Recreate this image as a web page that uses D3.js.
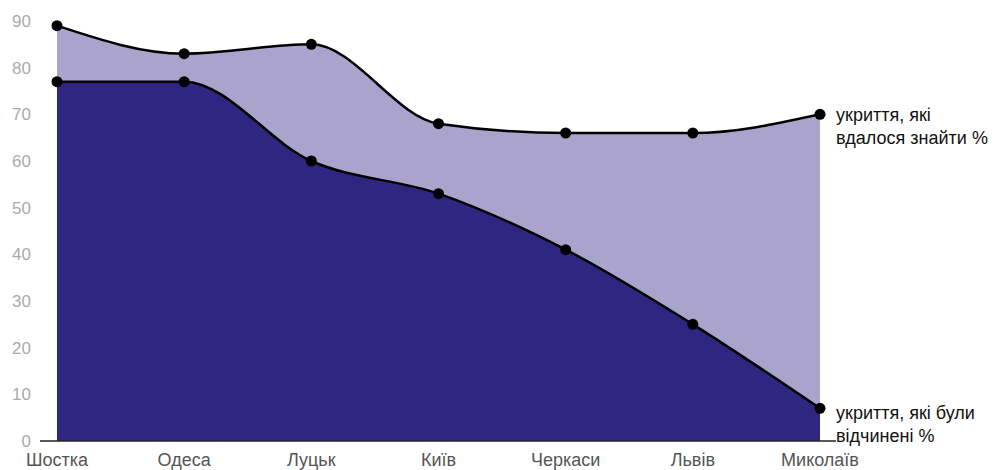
<!DOCTYPE html>
<html>
<head>
<meta charset="utf-8">
<script src="https://cdn.jsdelivr.net/npm/d3@7"></script>
<style>
  body { margin: 0; background: #fff; }
  text { font-family: "Liberation Sans", Arial, sans-serif; }
</style>
</head>
<body>
<div id="chart"></div>
<script>

// ======================= //
// DATA
// ======================= //

var cities = ["Шостка", "Одеса", "Луцьк", "Київ", "Черкаси", "Львів", "Миколаїв"]
var found = [89, 83, 85, 68, 66, 66, 70]   // укриття, які вдалося знайти %
var opened = [77, 77, 60, 53, 41, 25, 7]   // укриття, які були відчинені %
var yTicks = [0, 10, 20, 30, 40, 50, 60, 70, 80, 90]
var labelFound = ["укриття, які", "вдалося знайти %"]
var labelOpened = ["укриття, які були", "відчинені %"]

var width = 994, height = 470
var margin = {top: 21, right: 174, bottom: 29, left: 57}

var svg = d3.select("#chart")
  .append("svg")
    .attr("width", width)
    .attr("height", height)

// ======================= //
// SCALES
// ======================= //

var x = d3.scalePoint()
  .domain(cities)
  .range([margin.left, width - margin.right])

var y = d3.scaleLinear()
  .domain([0, 90])
  .range([height - margin.bottom, margin.top])

var rowsFound = cities.map(function(c, i){ return {city: c, v: found[i]} })
var rowsOpened = cities.map(function(c, i){ return {city: c, v: opened[i]} })

// ======================= //
// AREAS + LINES
// ======================= //

var area = d3.area()
  .curve(d3.curveMonotoneX)
  .x(function(d){ return x(d.city) })
  .y0(y(0))
  .y1(function(d){ return y(d.v) })

var line = d3.line()
  .curve(d3.curveMonotoneX)
  .x(function(d){ return x(d.city) })
  .y(function(d){ return y(d.v) })

svg.append("path").datum(rowsFound).attr("d", area).attr("fill", "#aaa4cc")
svg.append("path").datum(rowsOpened).attr("d", area).attr("fill", "#2e2681")

// baseline
svg.append("line")
  .attr("x1", 40).attr("x2", 836)
  .attr("y1", y(0)).attr("y2", y(0))
  .attr("stroke", "#222").attr("stroke-width", 1.5)

;[rowsFound, rowsOpened].forEach(function(rows){
  svg.append("path").datum(rows).attr("d", line)
    .attr("fill", "none").attr("stroke", "#000").attr("stroke-width", 2.5)
  svg.selectAll(null).data(rows).enter().append("circle")
    .attr("cx", function(d){ return x(d.city) })
    .attr("cy", function(d){ return y(d.v) })
    .attr("r", 5.5)
    .attr("fill", "#000")
})

// ======================= //
// AXES LABELS
// ======================= //

svg.selectAll(null).data(yTicks).enter().append("text")
  .attr("x", 31)
  .attr("y", function(d){ return y(d) + 6 })
  .attr("text-anchor", "end")
  .style("fill", "#aaa")
  .style("font-size", "17px")
  .text(function(d){ return d })

svg.selectAll(null).data(cities).enter().append("text")
  .attr("x", function(d){ return x(d) })
  .attr("y", 466)
  .attr("text-anchor", "middle")
  .style("fill", "#555")
  .style("font-size", "18px")
  .text(function(d){ return d })

// ======================= //
// SERIES LABELS
// ======================= //

var last = cities[cities.length - 1]
svg.selectAll(null).data(labelFound).enter().append("text")
  .attr("x", x(last) + 16)
  .attr("y", function(d, i){ return y(found[found.length - 1]) + 7 + i * 23 })
  .style("fill", "#111")
  .style("font-size", "18px")
  .text(function(d){ return d })

svg.selectAll(null).data(labelOpened).enter().append("text")
  .attr("x", x(last) + 16)
  .attr("y", function(d, i){ return y(opened[opened.length - 1]) + 11 + i * 23 })
  .style("fill", "#111")
  .style("font-size", "18px")
  .text(function(d){ return d })

</script>
</body>
</html>
